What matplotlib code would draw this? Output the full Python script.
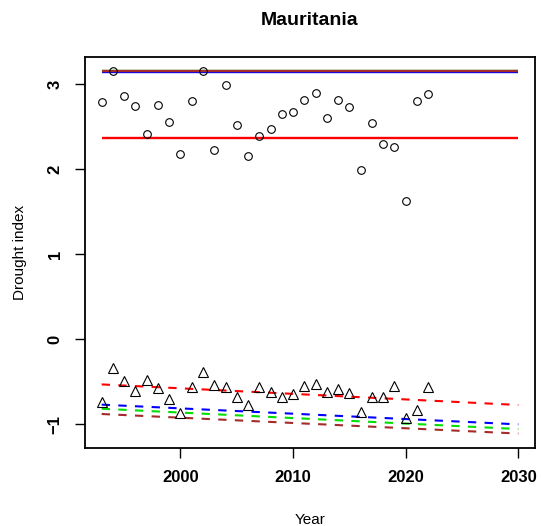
import numpy as np
import matplotlib
matplotlib.use("Agg")
import matplotlib.pyplot as plt

plt.rcParams['font.family'] = ['Liberation Sans', 'DejaVu Sans']

# observed values
years = np.arange(1993, 2023)
index_high = [2.79, 3.15, 2.865, 2.74, 2.41, 2.76, 2.555, 2.175, 2.806, 3.15,
              2.22, 2.986, 2.515, 2.16, 2.394, 2.476, 2.653, 2.668, 2.82, 2.90,
              2.60, 2.82, 2.73, 1.994, 2.54, 2.30, 2.265, 1.63, 2.80, 2.885]
index_low = [-0.735, -0.339, -0.488, -0.614, -0.48, -0.574, -0.70, -0.868, -0.56, -0.382,
             -0.543, -0.56, -0.68, -0.779, -0.567, -0.626, -0.68, -0.64, -0.545, -0.527,
             -0.62, -0.58, -0.637, -0.853, -0.68, -0.676, -0.555, -0.924, -0.838, -0.567]

# projection lines (start 1993, end 2030)
line_years = [1993, 2030]
line_colors = ["red", "#00E000", "blue", "#A52A2A"]
flat_levels = [2.363, 3.15, 3.138, 3.15]
trend_start = [-0.532, -0.818, -0.77, -0.88]
trend_end = [-0.774, -1.057, -1.002, -1.11]

fig = plt.figure(figsize=(5.41, 5.26), dpi=100)
ax = fig.add_axes([85 / 541, 78 / 526, 450 / 541, 391 / 526])

for c, lev in zip(line_colors, flat_levels):
    ax.plot(line_years, [lev, lev], color=c, lw=1.7, solid_capstyle="butt")
for c, s, e in zip(line_colors, trend_start, trend_end):
    ax.plot(line_years, [s, e], color=c, lw=1.5, dashes=(4, 4))

ax.plot(years, index_high, "o", mfc="none", mec="black", ms=5.5, mew=0.8)
ax.plot(years, index_low, "^", mfc="none", mec="black", ms=7.5, mew=0.8)

ax.set_xlim(1991.52, 2031.48)
ax.set_ylim(-1.28, 3.32)
ax.set_xticks([2000, 2010, 2020, 2030])
ax.set_yticks([-1, 0, 1, 2, 3])
for lab in ax.get_xticklabels():
    lab.set_fontweight("bold")
ax.set_yticklabels(["\u22121", "0", "1", "2", "3"], rotation=90, va="center", fontweight="bold")
ax.tick_params(labelsize=12, length=7, width=1, pad=9)
for sp in ax.spines.values():
    sp.set_linewidth(1.3)

ax.set_xlabel("Year", fontsize=11, labelpad=20)
ax.set_ylabel("Drought index", fontsize=11, labelpad=15)
ax.set_title("Mauritania", fontsize=14, fontweight="bold", pad=23)

fig.savefig("out.png", dpi=100)
